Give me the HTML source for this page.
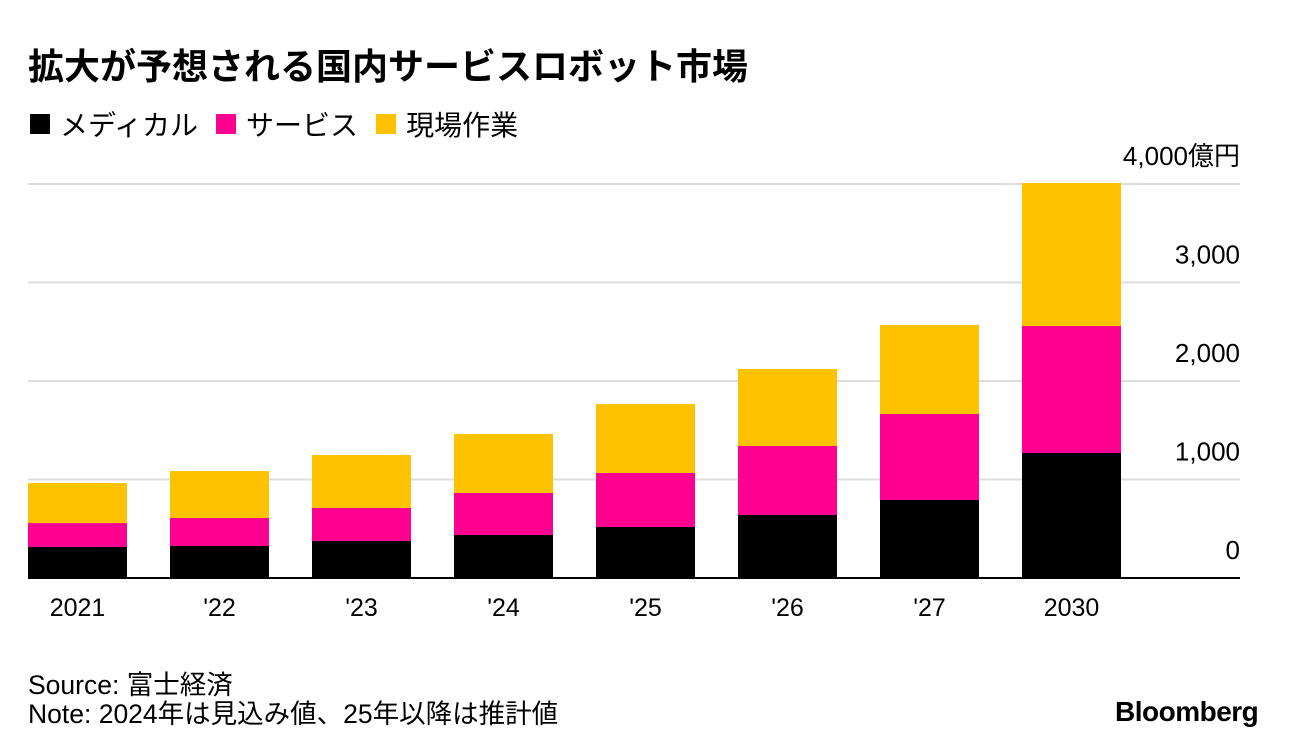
<!DOCTYPE html>
<html lang="ja"><head><meta charset="utf-8">
<style>
body{margin:0;background:#fff;width:1296px;height:756px;overflow:hidden;font-family:"Liberation Sans","Noto Sans CJK JP",sans-serif;color:#000}
.t{position:absolute}
</style></head><body>
<div class="t" style="left:28px;top:38px;font-size:36px;font-weight:bold;">拡大が予想される国内サービスロボット市場</div>
<div class="t" style="left:30px;top:104px;font-size:28px;display:flex;align-items:center;">
 <span style="display:flex;align-items:center;margin-right:18px"><i style="display:inline-block;width:20px;height:20px;background:#000;margin-right:10px"></i>メディカル</span>
 <span style="display:flex;align-items:center;margin-right:18px"><i style="display:inline-block;width:20px;height:20px;background:#ff0090;margin-right:10px"></i>サービス</span>
 <span style="display:flex;align-items:center"><i style="display:inline-block;width:20px;height:20px;background:#ffc200;margin-right:10px"></i>現場作業</span>
</div>
<svg id="chart" width="1296" height="756" style="position:absolute;left:0;top:0" font-family="Liberation Sans, Noto Sans CJK JP, sans-serif"></svg>
<div class="t" style="left:28px;top:671px;font-size:26.5px;line-height:29px;">Source: 富士経済<br>Note: 2024年は見込み値、25年以降は推計値</div>
<div class="t" style="left:1115px;top:696px;font-size:28px;font-weight:bold;letter-spacing:-0.5px">Bloomberg</div>
<script>
const categories=["2021","'22","'23","'24","'25","'26","'27","2030"];
const medical=[315,325,376,437,518,640,792,1269];
const service=[243,284,335,426,548,700,873,1289];
const field=[406,477,538,599,700,782,904,1452];
const ticks=[0,1000,2000,3000,4000];
const tickLabels=["0","1,000","2,000","3,000","4,000億円"];
const svg=document.getElementById('chart');
const NS='http://www.w3.org/2000/svg';
const y0=578, pxPer=0.0985, x0=28, step=142, bw=99;
const y=v=>y0-v*pxPer;
const x=i=>x0+i*step;
function mk(tag,attrs){const e=document.createElementNS(NS,tag);for(const k in attrs)e.setAttribute(k,attrs[k]);svg.appendChild(e);return e;}
ticks.forEach((t,i)=>{
 if(i>0){const g=mk('line',{x1:28,x2:1240,y1:y(t),y2:y(t),stroke:'#ddd','stroke-width':2});
 
 }
 const tx=mk('text',{x:1240,y:y(t)-19,'text-anchor':'end','font-size':26});
 tx.textContent=tickLabels[i];
 
 
});
const series=[[medical,'#000','medical'],[service,'#ff0090','service'],[field,'#ffc200','field']];
categories.forEach((c,i)=>{
 let base=0;
 series.forEach(([arr,col,nm])=>{
  const r=mk('rect',{x:x(i),y:y(base+arr[i]),width:bw,height:arr[i]*pxPer,fill:col});
  
  
  base+=arr[i];
 });
 const t=mk('text',{x:x(i)+bw/2,y:616,'text-anchor':'middle','font-size':25});
 t.textContent=c;
 
 
});
const ax=mk('line',{x1:28,x2:1240,y1:y0,y2:y0,stroke:'#000','stroke-width':2});


</script>
</body></html>
